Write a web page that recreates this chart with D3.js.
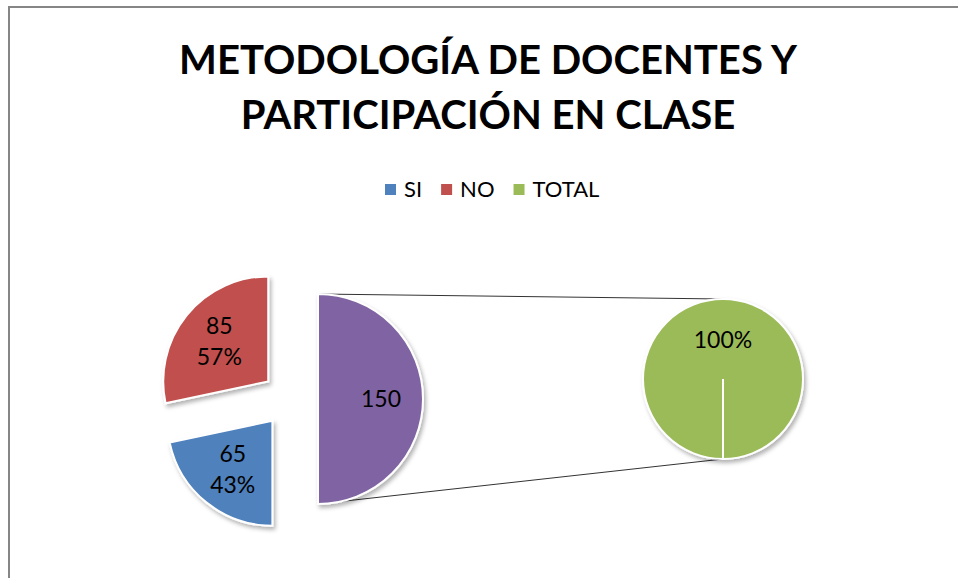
<!DOCTYPE html>
<html>
<head>
<meta charset="utf-8">
<script src="https://cdn.jsdelivr.net/npm/d3@7"></script>
<style>
  body { margin: 0; background: #fff; }
  text { font-family: Lato, "Noto Sans", sans-serif; }
</style>
</head>
<body>
<script>
// data
var categories = ["SI", "NO", "TOTAL"];
var values = [65, 85, 150];
var colors = ["#4F81BD", "#C0504D", "#9BBB59"];
var otherColor = "#8064A2";
var titleLines = ["METODOLOGÍA DE DOCENTES Y", "PARTICIPACIÓN EN CLASE"];

var width = 958, height = 578;

var svg = d3.select("body").append("svg")
    .attr("width", width)
    .attr("height", height);

// drop shadow like the office one
var defs = svg.append("defs");
defs.append("filter")
    .attr("id", "shadow")
    .attr("x", "-20%").attr("y", "-20%")
    .attr("width", "150%").attr("height", "150%")
  .append("feDropShadow")
    .attr("dx", 2).attr("dy", 3)
    .attr("stdDeviation", 2)
    .attr("flood-color", "#000")
    .attr("flood-opacity", 0.3);

// chart frame
svg.append("rect")
    .attr("x", 9).attr("y", 7)
    .attr("width", width + 20).attr("height", height + 20)
    .attr("fill", "#fff")
    .attr("stroke", "#868686")
    .attr("stroke-width", 2);

// title, fitted to the width of the first line
var title = svg.append("text")
    .attr("text-anchor", "middle")
    .attr("font-weight", "bold")
    .attr("font-size", 40)
    .attr("fill", "#000");
title.selectAll("tspan")
    .data(titleLines)
  .enter().append("tspan")
    .attr("x", 488)
    .attr("y", function(d, i) { return 74 + i * 55; })
    .text(function(d) { return d; });
var firstLen = title.select("tspan").node().getComputedTextLength();
title.attr("font-size", 40 * 618 / firstLen);

// legend
var legend = svg.append("g").attr("transform", "translate(385,189)");
var lx = 0;
categories.forEach(function(c, i) {
  var g = legend.append("g").attr("transform", "translate(" + lx + ",0)");
  g.append("rect")
      .attr("x", 0).attr("y", -5)
      .attr("width", 11).attr("height", 11)
      .attr("fill", colors[i]);
  var t = g.append("text")
      .attr("x", 19).attr("y", 8)
      .attr("font-size", 22)
      .attr("fill", "#000")
      .text(c);
  lx += 19 + t.node().getComputedTextLength() + 19;
});

// main pie: SI, NO and the "other" slice that holds TOTAL
var mainCx = 290, mainCy = 399, mainR = 105, explode = 28;
var sumSiNo = values[0] + values[1];
var mainData = [
  {name: "TOTAL", value: values[2], color: otherColor, label: [String(values[2])]},
  {name: "SI", value: values[0], color: colors[0],
   label: [String(values[0]), Math.round(values[0] / sumSiNo * 100) + "%"]},
  {name: "NO", value: values[1], color: colors[1],
   label: [String(values[1]), Math.round(values[1] / sumSiNo * 100) + "%"]}
];

var pie = d3.pie().sort(null).value(function(d) { return d.value; });
var arc = d3.arc().innerRadius(0).outerRadius(mainR);
var labelArc = d3.arc().innerRadius(mainR * 0.6).outerRadius(mainR * 0.6);

var arcs = pie(mainData);

// where the "other" slice sits, for the connector lines
var otherArc = arcs[0];
var otherMid = (otherArc.startAngle + otherArc.endAngle) / 2;
var ox = mainCx + Math.sin(otherMid) * explode;
var oy = mainCy - Math.cos(otherMid) * explode;

// second pie
var subCx = 723, subCy = 379, subR = 80;
var subData = [{name: "TOTAL", value: values[2], color: colors[2],
                label: Math.round(values[2] / values[2] * 100) + "%"}];

// connector lines
svg.append("line")
    .attr("x1", ox + Math.sin(otherArc.startAngle) * mainR)
    .attr("y1", oy - Math.cos(otherArc.startAngle) * mainR)
    .attr("x2", subCx).attr("y2", subCy - subR)
    .attr("stroke", "#333").attr("stroke-width", 1);
svg.append("line")
    .attr("x1", ox + Math.sin(otherArc.endAngle) * mainR)
    .attr("y1", oy - Math.cos(otherArc.endAngle) * mainR)
    .attr("x2", subCx).attr("y2", subCy + subR)
    .attr("stroke", "#333").attr("stroke-width", 1);

var slices = svg.selectAll(".slice")
    .data(arcs)
  .enter().append("g")
    .attr("class", "slice")
    .attr("transform", function(d) {
      var m = (d.startAngle + d.endAngle) / 2;
      return "translate(" + (mainCx + Math.sin(m) * explode) + "," +
             (mainCy - Math.cos(m) * explode) + ")";
    });

slices.append("path")
    .attr("d", arc)
    .attr("fill", function(d) { return d.data.color; })
    .attr("stroke", "#fff")
    .attr("stroke-width", 2)
    .attr("filter", "url(#shadow)");

slices.append("text")
    .attr("text-anchor", "middle")
    .attr("font-size", 23)
    .attr("fill", "#000")
    .attr("transform", function(d) { return "translate(" + labelArc.centroid(d) + ")"; })
    .each(function(d) {
      var n = d.data.label.length;
      var t = d3.select(this);
      d.data.label.forEach(function(s, i) {
        t.append("tspan")
            .attr("x", 0)
            .attr("y", 8 + (i - (n - 1) / 2) * 31)
            .text(s);
      });
    });

// second pie, starting at the bottom
var subPie = d3.pie().sort(null).value(function(d) { return d.value; })
    .startAngle(Math.PI).endAngle(3 * Math.PI);
var subArc = d3.arc().innerRadius(0).outerRadius(subR);
var subLabelArc = d3.arc().innerRadius(subR * 0.49).outerRadius(subR * 0.49);

var sub = svg.append("g").attr("transform", "translate(" + subCx + "," + subCy + ")");
var subArcs = subPie(subData);
sub.selectAll("path")
    .data(subArcs)
  .enter().append("path")
    .attr("d", subArc)
    .attr("fill", function(d) { return d.data.color; })
    .attr("stroke", "#fff")
    .attr("stroke-width", 2)
    .attr("filter", "url(#shadow)");
// slice edge from the centre (a full slice still shows its border there)
sub.selectAll("line.edge")
    .data(subArcs)
  .enter().append("line")
    .attr("class", "edge")
    .attr("x1", 0).attr("y1", 0)
    .attr("x2", function(d) { return Math.sin(d.startAngle) * subR; })
    .attr("y2", function(d) { return -Math.cos(d.startAngle) * subR; })
    .attr("stroke", "#fff")
    .attr("stroke-width", 2);
sub.selectAll("text")
    .data(subArcs)
  .enter().append("text")
    .attr("text-anchor", "middle")
    .attr("font-size", 23)
    .attr("fill", "#000")
    .attr("transform", function(d) { return "translate(" + subLabelArc.centroid(d) + ")"; })
    .attr("y", 8)
    .text(function(d) { return d.data.label; });
</script>
</body>
</html>
